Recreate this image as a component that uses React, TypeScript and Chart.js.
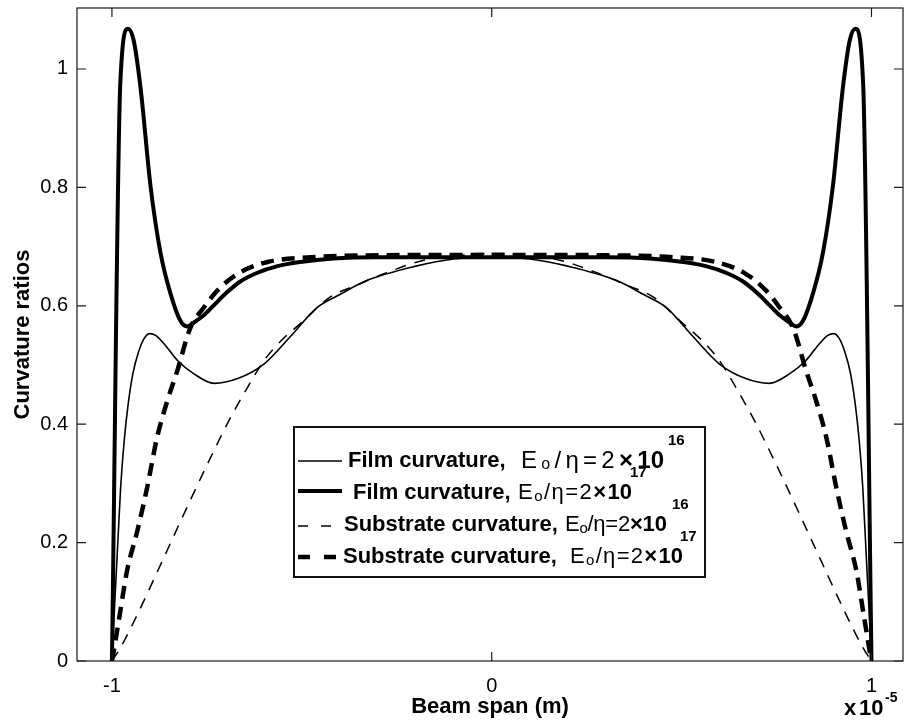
import React, { useEffect, useRef } from 'react';
import { Chart, registerables } from 'chart.js';

Chart.register(...registerables);

// x values in units of 1e-5 m
const filmLowX = [-1, -0.995, -0.986, -0.977, -0.968, -0.958, -0.945, -0.93, -0.915, -0.9, -0.885, -0.863, -0.828, -0.784, -0.731, -0.669, -0.599, -0.53, -0.46, -0.4, -0.328, -0.2, -0.1, 0,
  0.1, 0.2, 0.328, 0.4, 0.46, 0.53, 0.599, 0.669, 0.731, 0.784, 0.828, 0.863, 0.885, 0.9, 0.915, 0.93, 0.945, 0.958, 0.968, 0.977, 0.986, 0.995, 1];
const filmLowY = [0, 0.068, 0.181, 0.294, 0.37, 0.43, 0.485, 0.522, 0.545, 0.553, 0.55, 0.536, 0.508, 0.485, 0.469, 0.477, 0.502, 0.548, 0.597, 0.619, 0.643, 0.667, 0.679, 0.682,
  0.679, 0.667, 0.643, 0.619, 0.597, 0.548, 0.502, 0.477, 0.469, 0.485, 0.508, 0.536, 0.55, 0.553, 0.545, 0.522, 0.485, 0.43, 0.37, 0.294, 0.181, 0.068, 0];

const filmHighX = [-1, -0.978, -0.958, -0.943, -0.925, -0.898, -0.872, -0.846, -0.82, -0.802, -0.786, -0.76, -0.733, -0.7, -0.662, -0.62, -0.564, -0.504, -0.417, -0.3, -0.15, 0,
  0.15, 0.3, 0.417, 0.504, 0.564, 0.62, 0.662, 0.7, 0.733, 0.76, 0.786, 0.802, 0.82, 0.846, 0.872, 0.898, 0.925, 0.943, 0.958, 0.978, 1];
const filmHighY = [0, 0.976, 1.068, 1.049, 0.97, 0.8, 0.689, 0.621, 0.575, 0.565, 0.571, 0.583, 0.6, 0.621, 0.641, 0.655, 0.667, 0.674, 0.68, 0.682, 0.682, 0.682,
  0.682, 0.682, 0.68, 0.674, 0.667, 0.655, 0.641, 0.621, 0.6, 0.583, 0.571, 0.565, 0.575, 0.621, 0.689, 0.8, 0.97, 1.049, 1.068, 0.976, 0];

const subLowX = [-1, -0.977, -0.932, -0.871, -0.81, -0.74, -0.692, -0.652, -0.599, -0.548, -0.5, -0.425, -0.35, -0.284, -0.179, -0.065, 0,
  0.065, 0.179, 0.284, 0.35, 0.425, 0.5, 0.548, 0.599, 0.652, 0.692, 0.74, 0.81, 0.871, 0.932, 0.977, 1];
const subLowY = [0, 0.023, 0.08, 0.164, 0.249, 0.344, 0.406, 0.452, 0.508, 0.545, 0.572, 0.615, 0.636, 0.654, 0.677, 0.686, 0.688,
  0.686, 0.677, 0.654, 0.636, 0.615, 0.572, 0.545, 0.508, 0.452, 0.406, 0.344, 0.249, 0.164, 0.08, 0.023, 0];

const subHighX = [-1, -0.995, -0.982, -0.96, -0.933, -0.907, -0.881, -0.854, -0.828, -0.794, -0.757, -0.722, -0.669, -0.59, -0.477, -0.35, 0,
  0.35, 0.477, 0.59, 0.669, 0.722, 0.757, 0.794, 0.828, 0.854, 0.881, 0.907, 0.933, 0.96, 0.982, 0.995, 1];
const subHighY = [0, 0.018, 0.068, 0.153, 0.22, 0.294, 0.378, 0.44, 0.49, 0.562, 0.598, 0.626, 0.654, 0.674, 0.682, 0.685, 0.686,
  0.685, 0.682, 0.674, 0.654, 0.626, 0.598, 0.562, 0.49, 0.44, 0.378, 0.294, 0.22, 0.153, 0.068, 0.018, 0];

const xTicks = [-1, 0, 1];
const yTicks = [0, 0.2, 0.4, 0.6, 0.8, 1];
const xTitle = 'Beam span (m)';
const yTitle = 'Curvature ratios';
const xExponent = '-5';
const legendNames = ['Film curvature,', 'Film curvature,', 'Substrate curvature,', 'Substrate curvature,'];
const legendExponents = ['16', '17', '16', '17'];

const FONT = "'Liberation Sans', Arial, Helvetica, sans-serif";

const toPoints = (xs: number[], ys: number[]) => xs.map((x, i) => ({ x, y: ys[i] }));

const frameAndTicks = {
  id: 'frameAndTicks',
  afterDraw(chart: any) {
    const { ctx, chartArea: a, scales } = chart;
    const xs = scales.x;
    const ys = scales.y;
    ctx.save();
    ctx.strokeStyle = '#1a1a1a';
    ctx.lineWidth = 1.2;
    ctx.setLineDash([]);
    ctx.strokeRect(a.left, a.top, a.right - a.left, a.bottom - a.top);
    const L = 9;
    ctx.beginPath();
    yTicks.forEach((v) => {
      const p = ys.getPixelForValue(v);
      ctx.moveTo(a.left, p); ctx.lineTo(a.left + L, p);
      ctx.moveTo(a.right, p); ctx.lineTo(a.right - L, p);
    });
    xTicks.forEach((v) => {
      const p = xs.getPixelForValue(v);
      ctx.moveTo(p, a.bottom); ctx.lineTo(p, a.bottom - L);
      ctx.moveTo(p, a.top); ctx.lineTo(p, a.top + L);
    });
    ctx.stroke();

    // exponent label
    ctx.fillStyle = '#000';
    ctx.textBaseline = 'middle';
    ctx.textAlign = 'left';
    ctx.font = `bold 22px ${FONT}`;
    ctx.fillText('x', 844, 709);
    ctx.fillText('10', 859, 709);
    ctx.font = `bold 14px ${FONT}`;
    ctx.fillText(xExponent, 885, 698);

    // legend
    const bx = 294, by = 427, bw = 411, bh = 150;
    ctx.fillStyle = '#fff';
    ctx.fillRect(bx, by, bw, bh);
    ctx.strokeStyle = '#111';
    ctx.lineWidth = 2;
    ctx.strokeRect(bx, by, bw, bh);
    const rowsY = [461, 493, 525, 557];
    const lineY = [461, 491, 526, 557];
    const nameX = [348, 353, 344, 343];
    const eqX = [521, 518, 565, 570];
    const tenEnd = [664, 632, 667, 683];
    const supX = [668, 630, 672, 680];
    const eqSize = [24, 22, 22, 22];
    const styles = [
      { w: 1.6, dash: [] as number[] },
      { w: 4, dash: [] as number[] },
      { w: 1.6, dash: [10, 13] },
      { w: 4.5, dash: [12, 14] },
    ];
    for (let i = 0; i < 4; i++) {
      const ty = rowsY[i];
      const s = eqSize[i];
      const pieces = [
        { t: 'E', f: `${s}px ${FONT}`, dy: 0 },
        { t: 'o', f: `${Math.round(s * 0.68)}px ${FONT}`, dy: 4 },
        { t: '/', f: `${s}px ${FONT}`, dy: 0 },
        { t: '\u03b7', f: `${s}px ${FONT}`, dy: 0 },
        { t: '=', f: `${s}px ${FONT}`, dy: 0 },
        { t: '2', f: `${s}px ${FONT}`, dy: 0 },
        { t: '\u00d7', f: `bold ${s}px ${FONT}`, dy: 0 },
        { t: '10', f: `bold ${s}px ${FONT}`, dy: 0 },
      ];
      const widths = pieces.map((p) => { ctx.font = p.f; return ctx.measureText(p.t).width; });
      const natural = widths.reduce((acc, w) => acc + w, 0);
      ctx.strokeStyle = '#000';
      ctx.lineWidth = styles[i].w;
      ctx.setLineDash(styles[i].dash);
      ctx.beginPath();
      ctx.moveTo(298, lineY[i]);
      ctx.lineTo(342, lineY[i]);
      ctx.stroke();
      ctx.setLineDash([]);
      ctx.fillStyle = '#000';
      ctx.textBaseline = 'middle';
      ctx.textAlign = 'left';
      ctx.font = `bold 22px ${FONT}`;
      ctx.fillText(legendNames[i], nameX[i], ty);
      const extra = (tenEnd[i] - eqX[i] - natural) / (pieces.length - 1);
      let x = eqX[i];
      pieces.forEach((p, k) => {
        ctx.font = p.f;
        ctx.fillText(p.t, x, ty + p.dy);
        x += widths[k] + extra;
      });
      ctx.font = `bold 15px ${FONT}`;
      ctx.fillText(legendExponents[i], supX[i], ty - 20);
    }
    ctx.restore();
  },
};

export default function App() {
  const ref = useRef<HTMLCanvasElement | null>(null);
  useEffect(() => {
    if (!ref.current) return;
    const common = { pointRadius: 0, borderColor: '#000', cubicInterpolationMode: 'monotone' as const, fill: false };
    const chart = new Chart(ref.current, {
      type: 'line',
      data: {
        datasets: [
          { ...common, label: 'Film curvature, Eo/η=2×10^16', data: toPoints(filmLowX, filmLowY), borderWidth: 1.6 },
          { ...common, label: 'Film curvature, Eo/η=2×10^17', data: toPoints(filmHighX, filmHighY), borderWidth: 4 },
          { ...common, label: 'Substrate curvature, Eo/η=2×10^16', data: toPoints(subLowX, subLowY), borderWidth: 1.5, borderDash: [11, 9] },
          { ...common, label: 'Substrate curvature, Eo/η=2×10^17', data: toPoints(subHighX, subHighY), borderWidth: 4.5, borderDash: [13, 8] },
        ],
      },
      options: {
        responsive: false,
        animation: false,
        layout: { padding: { top: 8, right: 6, left: 0, bottom: 0 } },
        plugins: { legend: { display: false }, tooltip: { enabled: false } },
        scales: {
          x: {
            type: 'linear',
            min: -1.092,
            max: 1.083,
            grid: { display: false, drawTicks: false },
            border: { display: false },
            afterBuildTicks: (s: any) => { s.ticks = xTicks.map((v) => ({ value: v })); },
            afterFit: (s: any) => { s.height = 62; s.paddingLeft = 0; s.paddingRight = 0; },
            ticks: { color: '#000', font: { size: 20, family: FONT }, padding: 13, maxRotation: 0, callback: (v: any) => String(v) },
            title: { display: true, text: xTitle, color: '#000', font: { size: 22, weight: 'bold', family: FONT }, padding: { top: 0, bottom: 3 } },
          },
          y: {
            type: 'linear',
            min: 0,
            max: 1.103,
            grid: { display: false, drawTicks: false },
            border: { display: false },
            afterBuildTicks: (s: any) => { s.ticks = yTicks.map((v) => ({ value: v })); },
            afterFit: (s: any) => { s.width = 77; s.paddingTop = 0; s.paddingBottom = 0; },
            ticks: { color: '#000', font: { size: 20, family: FONT }, padding: 9, callback: (v: any) => String(v) },
            title: { display: true, text: yTitle, color: '#000', font: { size: 22, weight: 'bold', family: FONT }, padding: { top: 10, bottom: 0 } },
          },
        },
      },
      plugins: [frameAndTicks],
    });
    return () => chart.destroy();
  }, []);
  return (
    <div style={{ position: 'fixed', left: 0, top: 0, width: 909, height: 723, background: '#fff' }}>
      <canvas ref={ref} width={909} height={723} style={{ display: 'block' }} />
    </div>
  );
}
